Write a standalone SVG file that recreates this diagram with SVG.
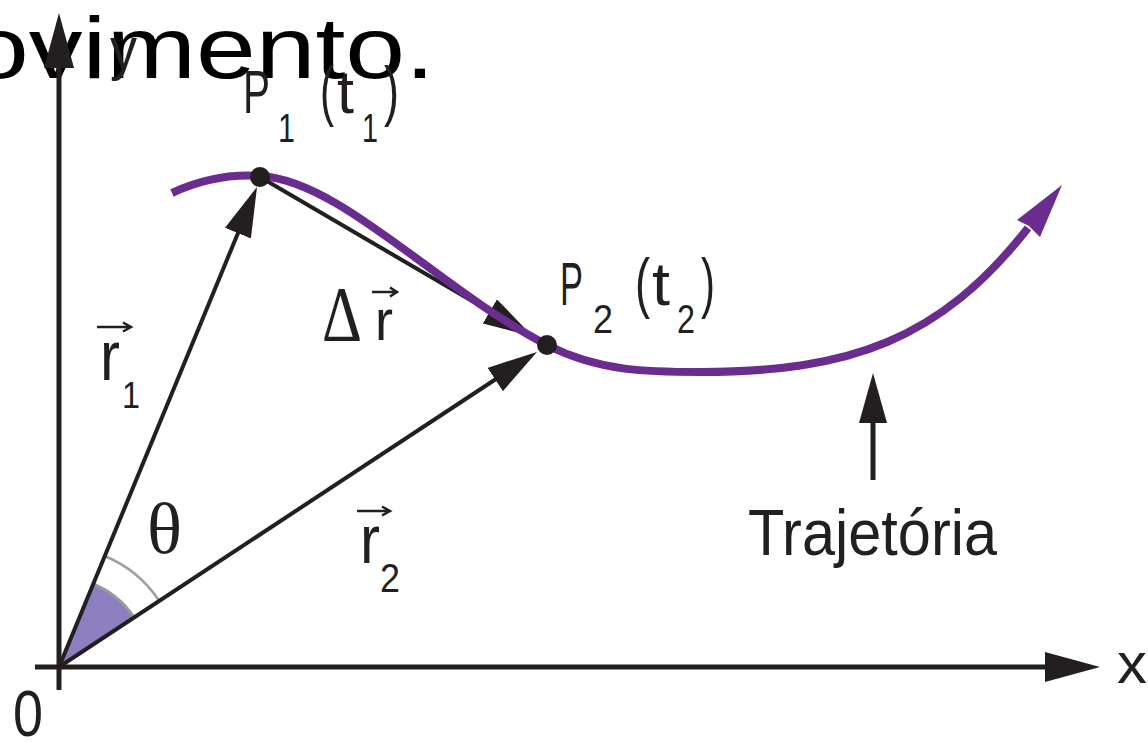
<svg xmlns="http://www.w3.org/2000/svg" width="1148" height="742" viewBox="0 0 1148 742">
<style>
.ink{stroke:#231f20;fill:none;stroke-linecap:butt}
.ax{stroke-width:5}
.vec{stroke-width:4}
.acc{stroke:#231f20;stroke-width:2.5;fill:none}
.lbl{font-family:"Liberation Sans",Arial,sans-serif;fill:#231f20}
.ser{font-family:"Liberation Serif","Times New Roman",serif;fill:#231f20}
.dot{fill:#231f20}
</style>
<defs>
<marker id="ah" viewBox="0 0 50 28" refX="40" refY="14" markerWidth="50" markerHeight="28" markerUnits="userSpaceOnUse" orient="auto">
<path d="M0,0 L50,14 L0,28 Z" fill="#231f20"/>
</marker>
<marker id="axh" viewBox="0 0 55 30" refX="45" refY="15" markerWidth="55" markerHeight="30" markerUnits="userSpaceOnUse" orient="auto">
<path d="M0,0 L55,15 L0,30 Z" fill="#231f20"/>
</marker>
</defs>
<rect width="1148" height="742" fill="#ffffff"/>
<text x="-31" y="78" font-family="'Liberation Sans',Arial,sans-serif" font-size="88" fill="#000" textLength="466" lengthAdjust="spacingAndGlyphs">ovimento.</text>

<g id="angle">
<path d="M59,667 L93.1,583.8 A90,90 0 0 1 134.1,617.4 Z" fill="#8b7fc0"/>
<path d="M93.1,583.8 A90,90 0 0 1 134.1,617.4" fill="none" stroke="#9a9a9a" stroke-width="3"/>
<path d="M104.5,556 A120,120 0 0 1 159.2,600.9" fill="none" stroke="#a0a0a0" stroke-width="2.5"/>
</g>

<g id="axes">
<line class="ink ax" x1="35" y1="667" x2="1090" y2="667" marker-end="url(#axh)"/>
<line class="ink ax" x1="59" y1="690" x2="59" y2="23" marker-end="url(#axh)"/>
</g>

<g id="connectors">
<line id="r1" class="ink vec" x1="59" y1="667" x2="253.2" y2="196.2" marker-end="url(#ah)"/>
<line id="r2" class="ink vec" x1="59" y1="667" x2="528.6" y2="357.5" marker-end="url(#ah)"/>
<line id="dr" class="ink vec" x1="260" y1="177" x2="524.4" y2="331.6" marker-end="url(#ah)"/>
<line id="traj-pointer" class="ink ax" x1="873" y1="480" x2="873" y2="383" marker-end="url(#ah)"/>
</g>

<g id="trajectory">
<path d="M172,193 C200,180 230,174 260,176 C340,180 440,290 547,345 C600,372 650,372 700,372 C850,372 940,340 1028,228" fill="none" stroke="#6a2d8f" stroke-width="8"/>
<path d="M1062,185 L1040,237 L1029,226 L1017,220 Z" fill="#6a2d8f"/>
</g>

<g id="P1">
<circle class="dot" cx="260" cy="177" r="10"/>
<text class="lbl" x="243" y="113" font-size="62" textLength="27" lengthAdjust="spacingAndGlyphs">P</text>
<text class="lbl" x="278" y="142" font-size="40" textLength="17" lengthAdjust="spacingAndGlyphs">1</text>
<text class="lbl" x="320" y="113" font-size="66" textLength="14" lengthAdjust="spacingAndGlyphs">(</text>
<text class="lbl" x="337" y="113" font-size="62" textLength="17" lengthAdjust="spacingAndGlyphs">t</text>
<text class="lbl" x="362" y="142" font-size="40" textLength="16" lengthAdjust="spacingAndGlyphs">1</text>
<text class="lbl" x="384" y="113" font-size="66" textLength="15" lengthAdjust="spacingAndGlyphs">)</text>
</g>

<g id="P2">
<circle class="dot" cx="547" cy="345" r="10"/>
<text class="lbl" x="560" y="305" font-size="62" textLength="23" lengthAdjust="spacingAndGlyphs">P</text>
<text class="lbl" x="593" y="333" font-size="40" textLength="20" lengthAdjust="spacingAndGlyphs">2</text>
<text class="lbl" x="635" y="305" font-size="66" textLength="15" lengthAdjust="spacingAndGlyphs">(</text>
<text class="lbl" x="652" y="305" font-size="62" textLength="18" lengthAdjust="spacingAndGlyphs">t</text>
<text class="lbl" x="677" y="333" font-size="40" textLength="18" lengthAdjust="spacingAndGlyphs">2</text>
<text class="lbl" x="701" y="305" font-size="66" textLength="14" lengthAdjust="spacingAndGlyphs">)</text>
</g>

<g id="label-dr">
<text class="ser" x="322" y="340" font-size="78" textLength="40" lengthAdjust="spacingAndGlyphs">Δ</text>
<text class="lbl" x="375" y="340" font-size="58" textLength="18" lengthAdjust="spacingAndGlyphs">r</text>
<path class="acc" d="M372,292 H396 M390,287.5 L397,292 L390,296.5"/>
</g>

<g id="label-r1">
<text class="lbl" x="100" y="380" font-size="70" textLength="20" lengthAdjust="spacingAndGlyphs">r</text>
<text class="lbl" x="122" y="408" font-size="36" textLength="18" lengthAdjust="spacingAndGlyphs">1</text>
<path class="acc" d="M97,327 H130 M123,322.5 L131,327 L123,331.5"/>
</g>

<g id="label-r2">
<text class="lbl" x="360" y="563" font-size="68" textLength="20" lengthAdjust="spacingAndGlyphs">r</text>
<text class="lbl" x="380" y="592" font-size="40" textLength="20" lengthAdjust="spacingAndGlyphs">2</text>
<path class="acc" d="M357,511 H389 M382,506.5 L390,511 L382,515.5"/>
</g>

<g id="label-theta">
<text class="ser" x="147" y="553" font-size="72" textLength="35" lengthAdjust="spacingAndGlyphs">θ</text>
</g>

<g id="label-traj">
<text class="lbl" x="748" y="555" font-size="65" textLength="249" lengthAdjust="spacingAndGlyphs">Trajetória</text>
</g>

<g id="axis-labels">
<text class="lbl" x="110" y="69" font-size="60" textLength="27" lengthAdjust="spacingAndGlyphs" fill="#3a3a3a">y</text>
<text class="lbl" x="1117" y="683" font-size="58" textLength="30" lengthAdjust="spacingAndGlyphs">x</text>
<text class="lbl" x="13" y="736" font-size="64" textLength="30" lengthAdjust="spacingAndGlyphs">0</text>
</g>
</svg>
